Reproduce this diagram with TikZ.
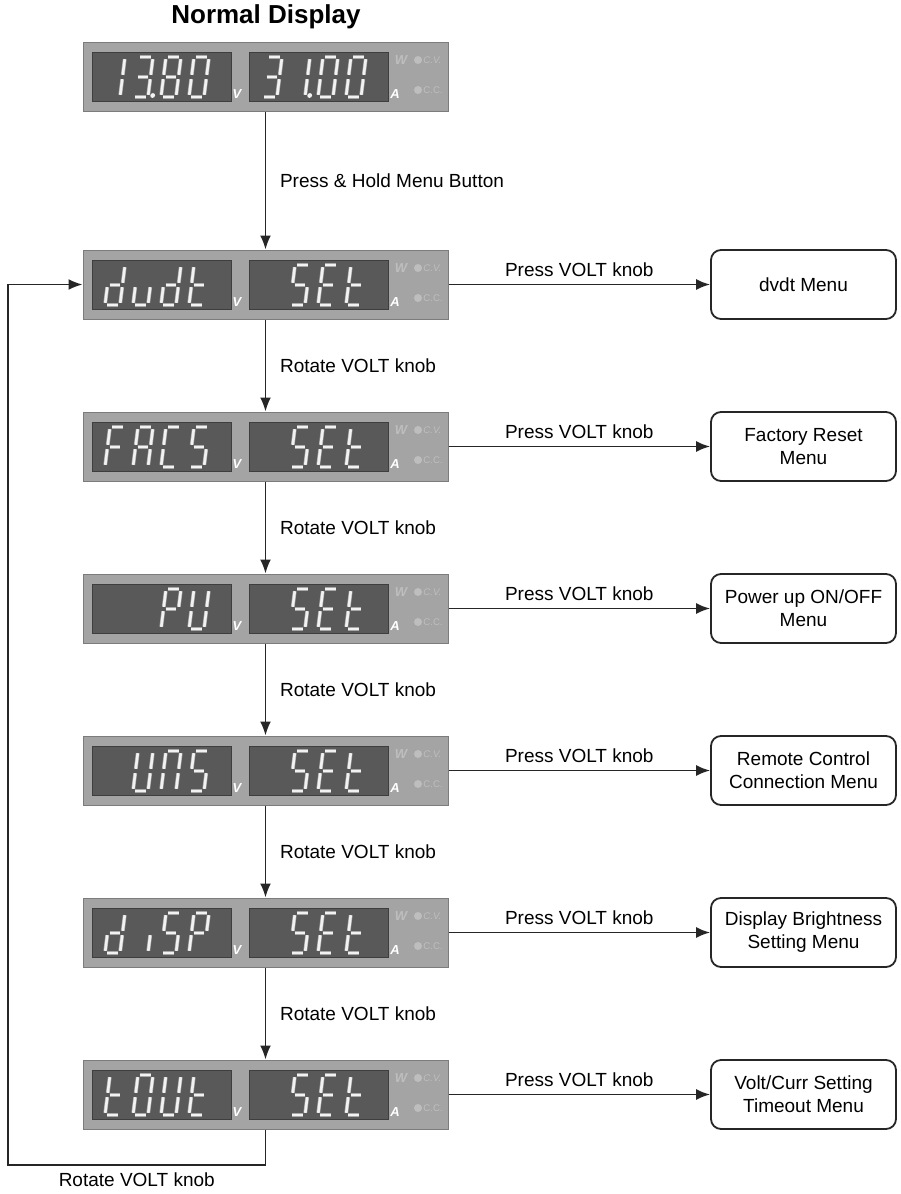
\documentclass[tikz,border=0pt]{standalone}
\usepackage{fontspec}
\setmainfont{Liberation Sans}
\usetikzlibrary{arrows.meta,positioning}
\definecolor{panelbg}{HTML}{A4A4A4}
\definecolor{paneledge}{HTML}{7C7C7C}
\definecolor{lcdbg}{HTML}{595959}
\definecolor{lcdedge}{HTML}{3E3E3E}
\definecolor{segfill}{HTML}{F2F2F2}
\definecolor{segedge}{HTML}{A8A8A8}
\definecolor{ledtxt}{HTML}{BEBEBE}
\definecolor{flowclr}{HTML}{262626}

% segments lit for each glyph
\pgfkeys{/glyph/.cd,
  0/.initial={a,b,c,d,e,f},
  1/.initial={b,c},
  3/.initial={a,b,c,d,g},
  8/.initial={a,b,c,d,e,f,g},
  A/.initial={a,b,c,e,f,g},
  C/.initial={a,d,e,f},
  E/.initial={a,d,e,f,g},
  F/.initial={a,e,f,g},
  N/.initial={a,b,c,e,f},
  O/.initial={a,b,c,d,e,f},
  P/.initial={a,b,e,f,g},
  S/.initial={a,c,d,f,g},
  U/.initial={b,c,d,e,f},
  d/.initial={b,c,d,e,g},
  i/.initial={c},
  t/.initial={d,e,f,g},
  u/.initial={c,d,e},
  dp/.initial={p}
}

\newcommand{\lcdglyph}[3]{%
  \pgfkeysgetvalue{/glyph/#3}\seglist
  \begin{scope}[shift={({#1},{#2})}, xslant=0.125]
    \foreach \s in \seglist {\pic[transform shape] {seg \s};}
  \end{scope}}

\newcommand{\dispanel}[4]{%
  \node[panel] (#1) at (265.5,#2+34.5) {};
  \node[lcd] (#1-v) at (161.5,#2+34.5) {};
  \node[lcd] (#1-a) at (318.5,#2+34.5) {};
  \node[unit] at (237,#2+52) {V};
  \node[unit] at (395,#2+52) {A};
  \node[ledlbl] at (401,#2+18) {W};
  \fill[ledtxt] (418,#2+18) circle (2pt);
  \fill[ledtxt] (418,#2+48) circle (2pt);
  \node[ledsmall, right] at (423,#2+18) {\itshape C.V.};
  \node[ledsmall, right] at (423,#2+48) {C.C.};
  \foreach \p/\c in {#3} {\lcdglyph{105+28*(\p-1)}{#2+55}{\c}}
  \foreach \p/\c in {#4} {\lcdglyph{262+28*(\p-1)}{#2+55}{\c}}
}

\begin{document}
\begin{tikzpicture}[
  x=0.5pt, y=-0.5pt,
  panel/.style={
    rectangle,
    minimum width=182.5pt,
    minimum height=34.5pt,
    fill=panelbg,
    draw=paneledge,
    line width=0.5pt
  },
  lcd/.style={
    rectangle,
    minimum width=69.5pt,
    minimum height=24.5pt,
    fill=lcdbg,
    draw=lcdedge,
    line width=0.5pt
  },
  segline/.style={
    draw=segedge, line width=0.3pt,
    double=segfill, double distance=1.3pt,
    shorten <=1.1pt, shorten >=1.1pt
  },
  seg a/.pic={\path[segline] (0,-40) -- (15,-40);},
  seg b/.pic={\path[segline] (15,-40) -- (15,-20);},
  seg c/.pic={\path[segline] (15,-20) -- (15,0);},
  seg d/.pic={\path[segline] (0,0) -- (15,0);},
  seg e/.pic={\path[segline] (0,-20) -- (0,0);},
  seg f/.pic={\path[segline] (0,-40) -- (0,-20);},
  seg g/.pic={\path[segline] (0,-20) -- (15,-20);},
  seg p/.pic={\fill[segfill] (19.5,-1.5) circle (1.2pt);},
  unit/.style={font=\fontsize{6.5}{7}\selectfont\bfseries\itshape, text=white, inner sep=0pt},
  ledlbl/.style={font=\fontsize{6.5}{7}\selectfont\bfseries\itshape, text=ledtxt, inner sep=0pt},
  ledsmall/.style={font=\fontsize{4.8}{5}\selectfont, text=ledtxt, inner sep=0pt},
  menu/.style={
    rectangle,
    rounded corners=5pt,
    minimum width=92.5pt,
    minimum height=34.5pt,
    draw=flowclr,
    line width=0.9pt,
    align=center,
    font=\fontsize{9.5}{11.5}\selectfont
  },
  flow/.style={-{Latex[length=7pt,width=5.5pt]}, line width=0.9pt, draw=flowclr},
  lbl/.style={font=\fontsize{9.5}{11.5}\selectfont}
]
\useasboundingbox (0,0) rectangle (900,1194);

% --- Title ---
\node[font=\fontsize{13}{15}\selectfont\bfseries] (ttl) at (266,17) {Normal Display};

% --- Display panels ---
\dispanel{norm}{42}{1/1,2/3,2/dp,3/8,4/0}{1/3,2/1,2/dp,3/0,4/0}
\dispanel{dvdt}{250}{1/d,2/u,3/d,4/t}{2/S,3/E,4/t}
\dispanel{facs}{412}{1/F,2/A,3/C,4/S}{2/S,3/E,4/t}
\dispanel{pu}{574}{3/P,4/U}{2/S,3/E,4/t}
\dispanel{uns}{736}{2/U,3/N,4/S}{2/S,3/E,4/t}
\dispanel{disp}{898}{1/d,2/i,3/S,4/P}{2/S,3/E,4/t}
\dispanel{tout}{1060}{1/t,2/O,3/U,4/t}{2/S,3/E,4/t}

% --- Menu boxes ---
\foreach \n/\y/\t in {dvdt/250/{dvdt Menu},
                      facs/412/{Factory Reset\\Menu},
                      pu/574/{Power up ON/OFF\\Menu},
                      uns/736/{Remote Control\\Connection Menu},
                      disp/898/{Display Brightness\\Setting Menu},
                      tout/1060/{Volt/Curr Setting\\Timeout Menu}} {
  \node[menu] (m-\n) at (803.5,\y+34.5) {\t};
  \draw[flow] (\n.east) -- node[lbl, above] {Press VOLT knob} (m-\n.west);
}

% --- Rotate chain ---
\draw[flow] (norm.south) -- node[lbl, right=3.5pt] {Press \& Hold Menu Button} (dvdt.north);
\foreach \a/\b in {dvdt/facs, facs/pu, pu/uns, uns/disp, disp/tout} {
  \draw[flow] (\a.south) -- node[lbl, right=3.5pt] {Rotate VOLT knob} (\b.north);
}

% --- Loop back ---
\coordinate (loopbl) at (8,1165);
\draw[flow] (tout.south) |- node[lbl, below, pos=0.75] {Rotate VOLT knob} (loopbl) |- (dvdt.west);

\end{tikzpicture}
\end{document}
